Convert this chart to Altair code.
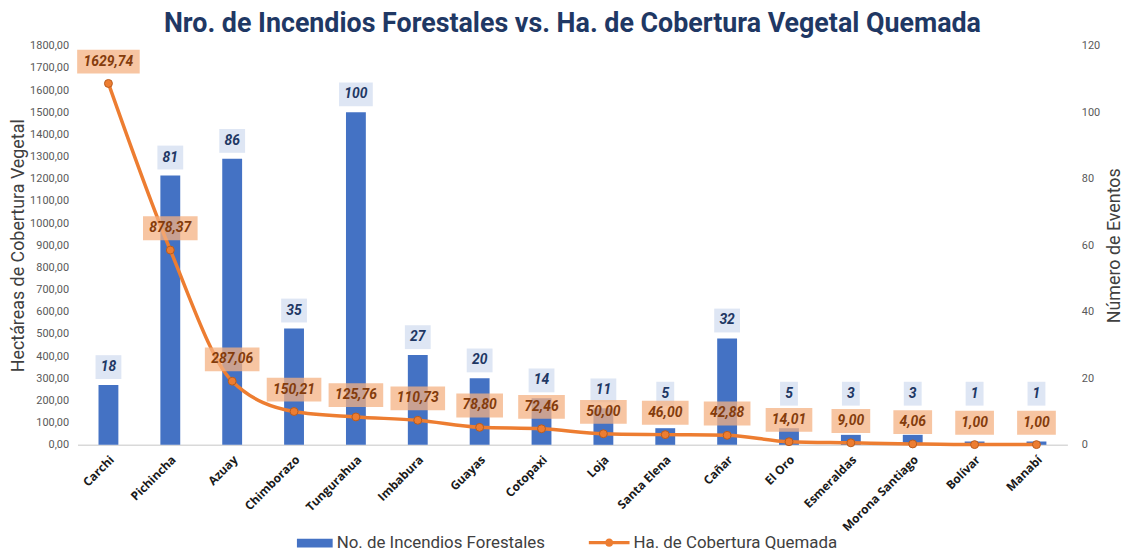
import altair as alt
import pandas as pd

provincias = ["Carchi", "Pichincha", "Azuay", "Chimborazo", "Tungurahua", "Imbabura",
              "Guayas", "Cotopaxi", "Loja", "Santa Elena", "Cañar", "El Oro",
              "Esmeraldas", "Morona Santiago", "Bolívar", "Manabí"]
incendios = [18, 81, 86, 35, 100, 27, 20, 14, 11, 5, 32, 5, 3, 3, 1, 1]
hectareas = [1629.74, 878.37, 287.06, 150.21, 125.76, 110.73, 78.80, 72.46,
             50.00, 46.00, 42.88, 14.01, 9.00, 4.06, 1.00, 1.00]

serie_bar = "No. de Incendios  Forestales"
serie_line = "Ha. de Cobertura Quemada"


def box_path(n, per=8, pad=9, h=24):
    w = per * n + pad
    return f"M{-w/2},{-h/2}H{w/2}V{h/2}H{-w/2}Z"


df = pd.DataFrame({"prov": provincias, "inc": incendios, "ha": hectareas})
df["inc_lbl"] = df["inc"].astype(str)
df["ha_lbl"] = df["ha"].map(lambda v: f"{v:.2f}".replace(".", ","))
df["inc_box"] = df["inc_lbl"].str.len().map(lambda n: box_path(n, 8, 10))
df["ha_box"] = df["ha_lbl"].str.len().map(lambda n: box_path(n, 8, 7))
df["s_bar"] = serie_bar
df["s_line"] = serie_line

FONT = "Roboto"

x_axis = alt.Axis(title=None, labelAngle=-45, labelFont="Open Sans",
                  labelFontWeight="bold", labelFontSize=12,
                  labelColor="#1a1a1a", labelPadding=9,
                  ticks=False, domainColor="#d9d9d9", domainWidth=1.5)
x_scale = alt.Scale(paddingInner=0, paddingOuter=0)
x_enc = alt.X("prov:N", sort=provincias, scale=x_scale, axis=x_axis)

inc_scale = alt.Scale(domain=[0, 120], nice=False)
inc_axis = alt.Axis(orient="right", title="Número de Eventos",
                    values=list(range(0, 121, 20)), grid=False,
                    domain=False, ticks=False, labelFont=FONT,
                    labelFontSize=11, labelColor="#595959",
                    labelPadding=14, titleFont=FONT, titleFontSize=18,
                    titleFontWeight="normal", titleColor="#404040",
                    titleAngle=270, titlePadding=24)

ha_scale = alt.Scale(domain=[0, 1800], nice=False)
ha_axis = alt.Axis(orient="left", title="Hectáreas de Cobertura Vegetal",
                   values=list(range(0, 1801, 100)), grid=False,
                   domain=False, ticks=False, labelFont=FONT,
                   labelFontSize=11, labelColor="#595959", labelPadding=9,
                   labelOverlap=False,
                   labelExpr="replace(format(datum.value, '.2f'), '.', ',')",
                   titleFont=FONT, titleFontSize=18,
                   titleFontWeight="normal", titleColor="#404040",
                   titlePadding=2)

y_inc = alt.Y("inc:Q", scale=inc_scale, axis=inc_axis)
y_lbl = alt.Y("inc_pos:Q", scale=inc_scale, axis=inc_axis)
y_ha = alt.Y("ha:Q", scale=ha_scale, axis=ha_axis)

base = alt.Chart(df)

bars = base.mark_bar(size=20).encode(
    x=x_enc, y=y_inc,
    fill=alt.Fill("s_bar:N", scale=alt.Scale(range=["#4472c4"]),
                  legend=alt.Legend(orient="none", legendX=221, legendY=483,
                                    title=None, direction="horizontal",
                                    symbolType="M-1,-0.25H1V0.25H-1Z",
                                    symbolSize=1296, symbolStrokeWidth=0,
                                    labelFont=FONT, labelFontSize=17,
                                    labelColor="#404040", labelLimit=400,
                                    labelOffset=4, padding=0)),
)
# small bars: labels lifted above the line labels, as in the original
lbl_base = base.transform_calculate(inc_pos="max(datum.inc, 10)")
bar_box = lbl_base.mark_point(filled=True, size=4, color="#dae3f3", opacity=0.9,
                              strokeWidth=0, yOffset=-18).encode(
    x=x_enc, y=y_lbl, shape=alt.Shape("inc_box:N", scale=None))
bar_text = lbl_base.mark_text(font=FONT, fontSize=14, fontWeight="bold",
                              fontStyle="italic", color="#1f3864", baseline="middle",
                              yOffset=-18).encode(
    x=x_enc, y=y_lbl, text="inc_lbl:N")

line = base.mark_line(color="#ed7d31", strokeWidth=3.5,
                      interpolate="monotone").encode(x=x_enc, y=y_ha)
points = base.mark_circle(size=64, opacity=1, stroke="#b85c1e",
                          strokeWidth=1).encode(
    x=x_enc, y=y_ha,
    color=alt.Color("s_line:N", scale=alt.Scale(range=["#ed7d31"]),
                    legend=alt.Legend(orient="none", legendX=515, legendY=480,
                                      title=None, direction="horizontal",
                                      symbolType="M-1,-0.075H1V0.075H-1Z M0.2,0A0.2,0.2 0 1,1 -0.2,0A0.2,0.2 0 1,1 0.2,0Z",
                                      symbolSize=1681, symbolStrokeWidth=0,
                                      labelFont=FONT, labelFontSize=17,
                                      labelColor="#404040", labelLimit=400,
                                      labelOffset=4, padding=0)),
)
ha_box = base.mark_point(filled=True, size=4, color="#f4b183", opacity=0.75,
                         strokeWidth=0, yOffset=-22).encode(
    x=x_enc, y=y_ha, shape=alt.Shape("ha_box:N", scale=None))
ha_text = base.mark_text(font=FONT, fontSize=14, fontWeight="bold",
                         fontStyle="italic", color="#843c0c", baseline="middle",
                         yOffset=-22).encode(
    x=x_enc, y=y_ha, text="ha_lbl:N")

bar_group = alt.layer(bars, bar_box, bar_text)
line_group = alt.layer(line, points, ha_box, ha_text)

chart = alt.layer(bar_group, line_group).resolve_scale(
    y="independent"
).properties(
    width=997, height=402,
    autosize="none",
    padding={"left": 70, "top": 36, "right": 56, "bottom": 109},
    title=alt.TitleParams("Nro. de Incendios Forestales vs. Ha. de Cobertura Vegetal Quemada",
                          font=FONT, fontSize=27, fontWeight="bold",
                          color="#1f3864", anchor="middle", offset=2),
).configure_view(stroke=None)

chart.save("out.html", embed_options={"renderer": "svg", "actions": False})
